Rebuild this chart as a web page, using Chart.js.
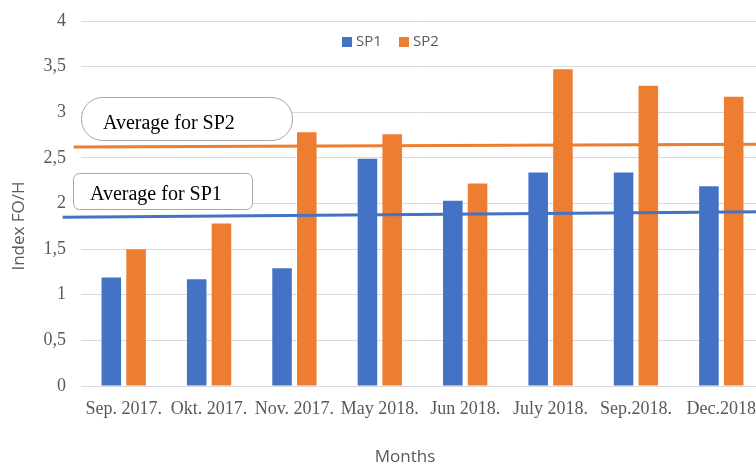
<!DOCTYPE html>
<html>
<head>
<meta charset="utf-8">
<script src="https://cdn.jsdelivr.net/npm/chart.js@4/dist/chart.umd.min.js"></script>
<style>
  html, body { margin: 0; padding: 0; background: #fff; overflow: hidden; }
  #wrap { width: 780px; height: 466px; }
</style>
</head>
<body>
<div id="wrap"><canvas id="myChart" width="780" height="466"></canvas></div>
<script>
const months = ['Sep. 2017.', 'Okt. 2017.', 'Nov. 2017.', 'May 2018.', 'Jun 2018.', 'July 2018.', 'Sep.2018.', 'Dec.2018']
const sp1 = [1.19, 1.17, 1.29, 2.49, 2.03, 2.34, 2.34, 2.19]
const sp2 = [1.50, 1.78, 2.78, 2.76, 2.22, 3.47, 3.29, 3.17]

// average lines: start / end, x given as category index
const avgSp1X = [-0.715, 7.5]
const avgSp1 = [1.85, 1.91]
const avgSp2X = [-0.586, 7.5]
const avgSp2 = [2.62, 2.65]

const blue = '#4472c4'
const orange = '#ed7d31'
const grey = '#595959'

const roundRect = (ctx, x, y, w, h, r) => {
  ctx.beginPath()
  ctx.moveTo(x + r, y)
  ctx.lineTo(x + w - r, y)
  ctx.arcTo(x + w, y, x + w, y + r, r)
  ctx.lineTo(x + w, y + h - r)
  ctx.arcTo(x + w, y + h, x + w - r, y + h, r)
  ctx.lineTo(x + r, y + h)
  ctx.arcTo(x, y + h, x, y + h - r, r)
  ctx.lineTo(x, y + r)
  ctx.arcTo(x, y, x + r, y, r)
  ctx.closePath()
}

// the two average lines, placed with the chart's scales
const avgLines = {
  id: 'avgLines',
  afterDatasetsDraw(chart) {
    const { ctx, scales: { x, y } } = chart
    ctx.save()
    ctx.lineWidth = 3
    const draw = (xs, ys, col) => {
      ctx.strokeStyle = col
      ctx.beginPath()
      xs.forEach((v, i) => {
        const px = x.getPixelForValue(v)
        const py = y.getPixelForValue(ys[i])
        if (i === 0) ctx.moveTo(px, py)
        else ctx.lineTo(px, py)
      })
      ctx.stroke()
    }
    draw(avgSp2X, avgSp2, orange)
    draw(avgSp1X, avgSp1, blue)
    ctx.restore()
  }
}

// legend, axis titles and the two callout boxes
const extras = {
  id: 'extras',
  afterDraw(chart) {
    const ctx = chart.ctx
    ctx.save()

    // legend
    ctx.font = '15px "Open Sans"'
    ctx.textBaseline = 'middle'
    ctx.textAlign = 'left'
    const items = [[chart.data.datasets[0].label, blue, 342], [chart.data.datasets[1].label, orange, 399]]
    items.forEach(([name, col, x]) => {
      ctx.fillStyle = col
      ctx.fillRect(x, 37, 10, 10)
      ctx.fillStyle = grey
      ctx.fillText(name, x + 14, 42)
    })

    // axis titles
    ctx.font = '17px "Open Sans"'
    ctx.textAlign = 'center'
    ctx.fillText('Months', 405, 457)
    ctx.translate(19, 226)
    ctx.rotate(-Math.PI / 2)
    ctx.fillText('Index FO/H', 0, 0)
    ctx.setTransform(1, 0, 0, 1, 0, 0)

    // callouts
    ctx.lineWidth = 1
    ctx.strokeStyle = '#a6a6a6'
    ctx.fillStyle = '#fff'
    roundRect(ctx, 81.5, 97.5, 211, 43, 21)
    ctx.fill(); ctx.stroke()
    roundRect(ctx, 73.5, 173.5, 179, 36, 6)
    ctx.fill(); ctx.stroke()

    ctx.fillStyle = '#000'
    ctx.font = '20px "Liberation Serif"'
    ctx.textAlign = 'left'
    ctx.textBaseline = 'alphabetic'
    ctx.fillText('Average for SP2', 103, 129)
    ctx.fillText('Average for SP1', 90, 200)
    ctx.restore()
  }
}

const ctx = document.getElementById('myChart').getContext('2d')
const chart = new Chart(ctx, {
  type: 'bar',
  data: {
    labels: months,
    datasets: [
      {
        label: 'SP1',
        data: sp1,
        backgroundColor: blue
      },
      {
        label: 'SP2',
        data: sp2,
        backgroundColor: orange
      }
    ]
  },
  options: {
    responsive: false,
    animation: false,
    barPercentage: 0.79,
    categoryPercentage: 0.58,
    layout: { padding: { top: 21, right: 16, left: 0, bottom: 0 } },
    plugins: {
      legend: { display: false },
      tooltip: { enabled: false }
    },
    scales: {
      x: {
        grid: { display: false, drawTicks: false },
        border: { color: '#d9d9d9' },
        ticks: {
          color: grey,
          font: { family: 'Liberation Serif', size: 18 },
          padding: 12,
          autoSkip: false,
          maxRotation: 0
        },
        afterFit: s => { s.height = 80 }
      },
      y: {
        min: 0,
        max: 4,
        grid: { color: '#d9d9d9', drawTicks: false },
        border: { display: false },
        ticks: {
          stepSize: 0.5,
          color: grey,
          padding: 15,
          font: { family: 'Liberation Serif', size: 18 },
          callback: v => String(v).replace('.', ',')
        },
        afterFit: s => {
          s.width = 81
          s.paddingTop = 0
          s.paddingBottom = 0
        }
      }
    }
  },
  plugins: [avgLines, extras]
})
</script>
</body>
</html>
